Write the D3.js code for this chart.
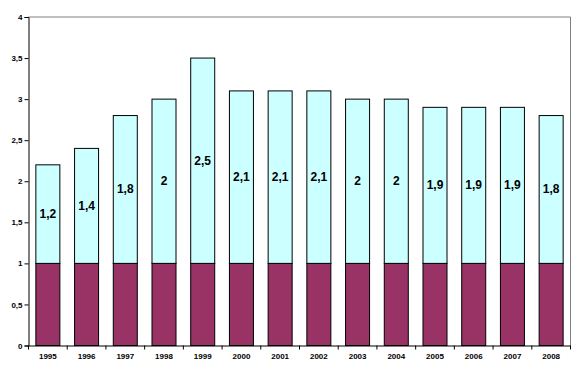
<!DOCTYPE html>
<html><head><meta charset="utf-8">
<script src="https://cdn.jsdelivr.net/npm/d3@7"></script>
<style>body{margin:0;background:#fff}svg{display:block}</style>
</head><body>
<script>
const years = ["1995","1996","1997","1998","1999","2000","2001","2002","2003","2004","2005","2006","2007","2008"];
const baseValues = [1,1,1,1,1,1,1,1,1,1,1,1,1,1];
const upperValues = [1.2,1.4,1.8,2,2.5,2.1,2.1,2.1,2,2,1.9,1.9,1.9,1.8];
const yTicks = [0,0.5,1,1.5,2,2.5,3,3.5,4];

const W = 581, H = 374;
const m = {left: 28.5, right: 570.5, top: 17, bottom: 345.5};
const svg = d3.select("body").append("svg").attr("width", W).attr("height", H);
const fmt = v => String(v).replace(".", ",");

const x = d3.scaleBand().domain(years).range([m.left, m.right]).paddingInner(0.38).paddingOuter(0.19);
const y = d3.scaleLinear().domain([0,4]).range([m.bottom, m.top]);

// plot border (top/right gray)
svg.append("path").attr("d", `M${m.left},${m.top}H${m.right}V${m.bottom}`)
  .attr("fill","none").attr("stroke","#808080").attr("stroke-width",1);

// bars
const g = svg.append("g");
years.forEach((yr,i) => {
  const b = baseValues[i], u = upperValues[i];
  g.append("rect").attr("x", x(yr)).attr("width", x.bandwidth())
    .attr("y", y(b)).attr("height", y(0)-y(b))
    .attr("fill","#993366").attr("stroke","#000").attr("stroke-width",1);
  g.append("rect").attr("x", x(yr)).attr("width", x.bandwidth())
    .attr("y", y(b+u)).attr("height", y(b)-y(b+u))
    .attr("fill","#CCFFFF").attr("stroke","#000").attr("stroke-width",1);
  g.append("text").attr("x", x(yr)+x.bandwidth()/2).attr("y", (y(b)+y(b+u))/2)
    .attr("text-anchor","middle").attr("dominant-baseline","central")
    .attr("font-family","Arial, Liberation Sans, sans-serif").attr("font-weight","bold")
    .attr("font-size",12).attr("fill","#000").text(fmt(u));
});

// y axis
const yAxis = d3.axisLeft(y).tickValues(yTicks).tickSize(4).tickFormat(fmt);
const ya = svg.append("g").attr("transform",`translate(${m.left},0)`).call(yAxis);
ya.select(".domain").attr("stroke","#000");
ya.selectAll(".tick line").attr("stroke","#000");
ya.selectAll("text").attr("font-family","Arial, Liberation Sans, sans-serif")
  .attr("font-weight","bold").attr("font-size",8).attr("fill","#000").attr("x",-6);

// x axis
const xAxis = d3.axisBottom(x).tickSize(0).tickSizeOuter(0);
const xa = svg.append("g").attr("transform",`translate(0,${m.bottom})`).call(xAxis);
xa.select(".domain").attr("stroke","#000");
xa.selectAll("text").attr("font-family","Arial, Liberation Sans, sans-serif")
  .attr("font-weight","bold").attr("font-size",8).attr("fill","#000").attr("y",8);
// ticks at band boundaries
const step = x.step();
const bounds = d3.range(years.length+1).map(i => m.left + i*(m.right-m.left)/years.length);
xa.selectAll(".bnd").data(bounds).enter().append("line")
  .attr("x1",d=>d).attr("x2",d=>d).attr("y1",0).attr("y2",4).attr("stroke","#000");
</script>
</body></html>
